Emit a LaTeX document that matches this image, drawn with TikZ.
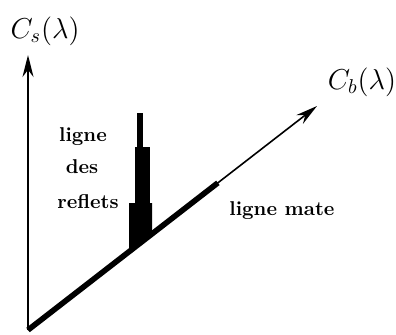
\documentclass[tikz,border=0pt]{standalone}
\usepackage{amsmath}
\usepackage{tikz}
\usetikzlibrary{calc,arrows.meta}
\tikzset{
	axe/.style={line width=0.8pt,-{Stealth[length=11pt,width=5.5pt]}},
	mate/.style={line width=2.8pt},
	lab/.style={font=\bfseries,anchor=base,inner sep=0pt}
}

\begin{document}
\begin{tikzpicture}[x=0.5pt,y=-0.5pt]
\useasboundingbox (0,0) rectangle (396,334);
\coordinate (O) at (28,330);
\coordinate (As) at (28,55);
\coordinate (Ab) at (317,106);
\draw[axe] (O)--(As);
\draw[axe] (O)--(Ab);
\draw[mate] (O)--($(O)!0.657!(Ab)$);
% pic des reflets
\fill (137,113) rectangle (143,147);
\fill (135,147) rectangle (150,203);
\fill (129,203)--(152,203)--(152,234)--(129,252)--cycle;
\node (Cs) at (45,31) {\Large$C_s(\lambda)$};
\node (Cb) at (362,82) {\Large$C_b(\lambda)$};
\node[lab] (l1) at (83,141) {ligne};
\node[lab] (l2) at (82,173) {des};
\node[lab] (l3) at (88,208) {reflets};
\node[lab] (lm) at (282,215) {ligne mate};
\end{tikzpicture}
\end{document}
